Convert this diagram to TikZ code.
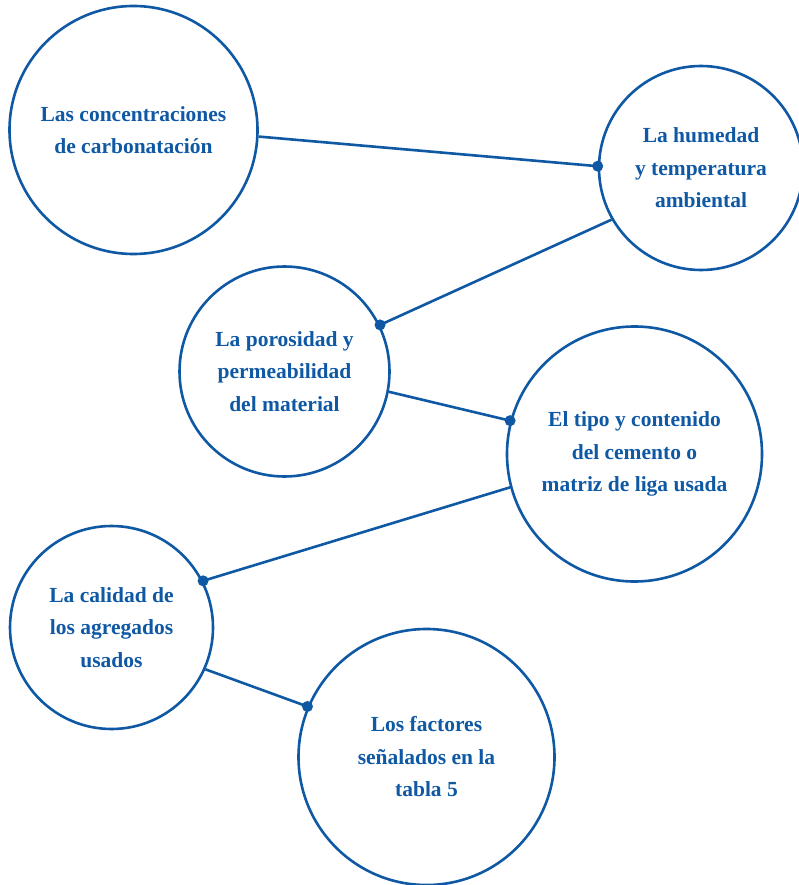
\documentclass[tikz,border=0pt]{standalone}
\usepackage{fontspec}
\setmainfont{Liberation Serif}
\usepackage{xcolor}
\usepackage{tikz}
\usetikzlibrary{positioning}
\definecolor{azul}{RGB}{14,88,164}

\begin{document}
\begin{tikzpicture}[
   x=1pt,y=1pt,
   every node/.style={font=\fontsize{21.5}{32.5}\selectfont\bfseries,text=azul},
   burb/.style={draw=azul,circle,line width=2.6pt,inner sep=0pt,align=center},
   ln/.style={draw=azul,line width=2.6pt},
   pto/.style={fill=azul}
]
\useasboundingbox (0,0) rectangle (798,-885);

% Circles
\node[burb,minimum size=248pt] (conc) at (133.5,-130) {Las concentraciones\\de carbonatación};
\node[burb,minimum size=204pt] (hum) at (701,-168) {La humedad\\y temperatura\\ambiental};
\node[burb,minimum size=210pt] (poro) at (284.5,-371.5) {La porosidad y\\permeabilidad\\del material};
\node[burb,minimum size=255pt] (cem) at (634.5,-454) {El tipo y contenido\\del cemento o\\matriz de liga usada};
\node[burb,minimum size=203pt] (cal) at (111.5,-627.5) {La calidad de\\los agregados\\usados};
\node[burb,minimum size=256pt] (fact) at (426.5,-757) {Los factores\\señalados en la\\tabla 5};

% Connectors
\draw[ln] (conc.-3) -- (hum.179);
\fill[pto] (hum.179) circle (5.5);
\draw[ln] (hum.210) -- (poro.26);
\fill[pto] (poro.26) circle (5.5);
\draw[ln] (poro.-11) -- (cem.165);
\fill[pto] (cem.165) circle (5.5);
\draw[ln] (cem.195) -- (cal.27);
\fill[pto] (cal.27) circle (5.5);
\draw[ln] (cal.-24) -- (fact.157.5);
\fill[pto] (fact.157.5) circle (5.5);

\end{tikzpicture}
\end{document}
